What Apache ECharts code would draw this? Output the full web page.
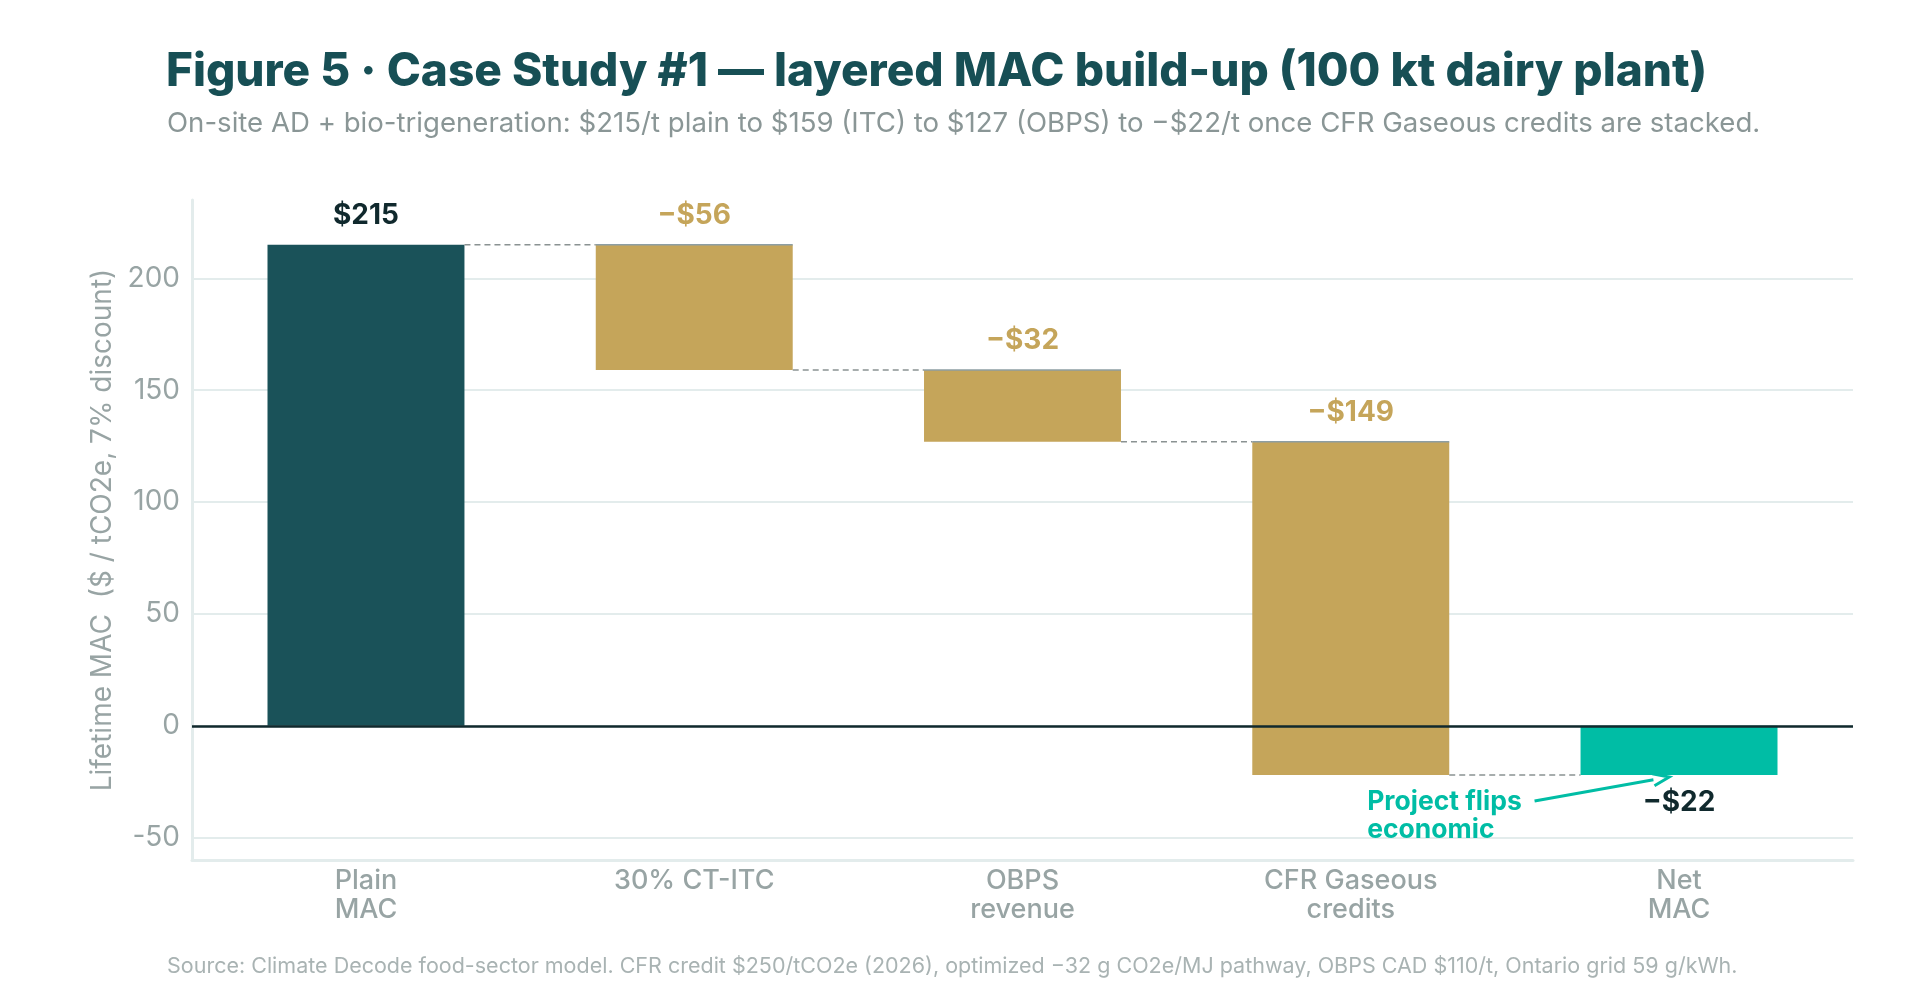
<!DOCTYPE html>
<html>
<head>
<meta charset="utf-8">
<script src="https://cdn.jsdelivr.net/npm/echarts@6/dist/echarts.min.js"></script>
<style>
  html, body { margin: 0; padding: 0; background: #ffffff; }
  #chart { width: 1920px; height: 1000px; }
</style>
</head>
<body>
<div id="chart"></div>
<script>
const categories = ["Plain\nMAC", "30% CT-ITC", "OBPS\nrevenue", "CFR Gaseous\ncredits", "Net\nMAC"];
const categoryIndex = [0, 1, 2, 3, 4];
const barFrom = [0, 215, 159, 127, 0];
const barTo = [215, 159, 127, -22, -22];
const barKinds = ["total", "step", "step", "step", "net"];
const valueLabels = ["$215", "\u2212$56", "\u2212$32", "\u2212$149", "\u2212$22"];
const yTicks = [-50, 0, 50, 100, 150, 200];
const annotationText = "Project flips\neconomic";

const COLORS = {
  total: "#1a5259",
  step: "#c5a55a",
  net: "#00bda5",
  dark: "#10292d",
  grey: "#98a4a4",
  grid: "#e3ecec"
};

const chart = echarts.init(document.getElementById("chart"), null, { renderer: "canvas" });

function renderItem(params, api) {
  const i = api.value(0);
  const from = api.value(1);
  const to = api.value(2);
  const kind = barKinds[i];
  const band = api.size([1, 0])[0];
  const w = band * 0.6;
  const pFrom = api.coord([i, from]);
  const pTo = api.coord([i, to]);
  const x0 = pFrom[0] - w / 2;
  const yTop = Math.min(pFrom[1], pTo[1]);
  const yBot = Math.max(pFrom[1], pTo[1]);
  const children = [];

  children.push({
    type: "rect",
    shape: { x: x0, y: yTop, width: w, height: yBot - yTop },
    style: { fill: COLORS[kind] }
  });

  if (kind === "step") {
    children.push({
      type: "line",
      shape: { x1: x0, y1: pFrom[1], x2: x0 + w, y2: pFrom[1] },
      style: { stroke: "#8d9ea3", lineWidth: 1.5 }
    });
  }

  if (i < categories.length - 1) {
    children.push({
      type: "line",
      shape: { x1: x0 + w, y1: pTo[1], x2: x0 + band, y2: pTo[1] },
      style: { stroke: "#8a9292", lineWidth: 1.5, lineDash: [6, 4] }
    });
  }

  const labelBelow = kind === "net";
  children.push({
    type: "text",
    style: {
      text: valueLabels[i],
      x: pFrom[0],
      y: labelBelow ? yBot + 28 : yTop - 29,
      align: "center",
      verticalAlign: "middle",
      fill: kind === "step" ? COLORS.step : COLORS.dark,
      font: "bold 28px Inter"
    }
  });

  if (kind === "net") {
    const tx = pFrom[0] - band * 0.95;
    children.push({
      type: "text",
      style: {
        text: annotationText,
        x: tx,
        y: yBot + 13,
        align: "left",
        verticalAlign: "top",
        fill: COLORS.net,
        font: "bold 26.5px Inter",
        lineHeight: 28
      }
    });
    const ax1 = pFrom[0] - band * 0.44;
    const ay1 = yBot + 26;
    const ax2 = pFrom[0] - band * 0.03;
    const ay2 = yBot + 2;
    const ang = Math.atan2(ay2 - ay1, ax2 - ax1);
    const hl = 16, hw = 6;
    const bx = ax2 - hl * Math.cos(ang);
    const by = ay2 - hl * Math.sin(ang);
    children.push({
      type: "line",
      shape: { x1: ax1, y1: ay1, x2: bx, y2: by },
      style: { stroke: COLORS.net, lineWidth: 3 }
    });
    children.push({
      type: "polyline",
      shape: {
        points: [
          [bx - hw * Math.sin(ang), by + hw * Math.cos(ang)],
          [ax2, ay2],
          [bx + hw * Math.sin(ang), by - hw * Math.cos(ang)]
        ]
      },
      style: { stroke: COLORS.net, lineWidth: 3, fill: null }
    });
  }

  return { type: "group", children: children };
}

chart.setOption({
  animation: false,
  backgroundColor: "#ffffff",
  title: [
    {
      text: "Figure 5 \u00b7 Case Study #1 \u2014 layered MAC build-up (100 kt dairy plant)",
      left: 161,
      top: 44,
      textStyle: { fontFamily: "Inter", fontWeight: 800, fontSize: 46, color: "#174f55" }
    },
    {
      text: "On-site AD + bio-trigeneration: $215/t plain to $159 (ITC) to $127 (OBPS) to \u2212$22/t once CFR Gaseous credits are stacked.",
      left: 162,
      top: 105,
      textStyle: { fontFamily: "Inter", fontWeight: 400, fontSize: 27.6, color: "#8a9696" }
    },
    {
      text: "Source: Climate Decode food-sector model. CFR credit $250/tCO2e (2026), optimized \u221232 g CO2e/MJ pathway, OBPS CAD $110/t, Ontario grid 59 g/kWh.",
      left: 162,
      top: 951,
      textStyle: { fontFamily: "Inter", fontWeight: 400, fontSize: 21.5, color: "#a9b3b3" }
    }
  ],
  grid: { left: 192, right: 67, top: 200, bottom: 140 },
  xAxis: {
    type: "value",
    min: -0.53,
    max: 4.53,
    axisLine: { show: true, onZero: false, lineStyle: { color: COLORS.grid, width: 3 } },
    axisTick: { show: false, customValues: categoryIndex },
    splitLine: { show: false },
    axisLabel: {
      customValues: categoryIndex,
      formatter: (v) => categories[Math.round(v)],
      color: COLORS.grey,
      fontFamily: "Inter",
      fontWeight: 500,
      fontSize: 27,
      lineHeight: 29,
      margin: 6
    }
  },
  yAxis: {
    type: "value",
    min: -60,
    max: 235,
    name: "Lifetime MAC  ($ / tCO2e, 7% discount)",
    nameLocation: "middle",
    nameGap: 75,
    nameTextStyle: { color: COLORS.grey, fontFamily: "Inter", fontSize: 28 },
    axisLine: { show: true, onZero: false, lineStyle: { color: COLORS.grid, width: 3 } },
    axisTick: { show: false, customValues: yTicks },
    axisLabel: {
      customValues: yTicks,
      color: COLORS.grey,
      fontFamily: "Inter",
      fontSize: 28,
      margin: 12
    },
    splitLine: { show: true, lineStyle: { color: COLORS.grid, width: 2 } }
  },
  series: [
    {
      type: "custom",
      renderItem: renderItem,
      data: categoryIndex.map((i) => [i, barFrom[i], barTo[i]]),
      markLine: {
        silent: true,
        symbol: "none",
        label: { show: false },
        lineStyle: { color: COLORS.dark, width: 2.5, type: "solid" },
        data: [{ yAxis: 0 }]
      },
      z: 3
    }
  ]
});
</script>
</body>
</html>
